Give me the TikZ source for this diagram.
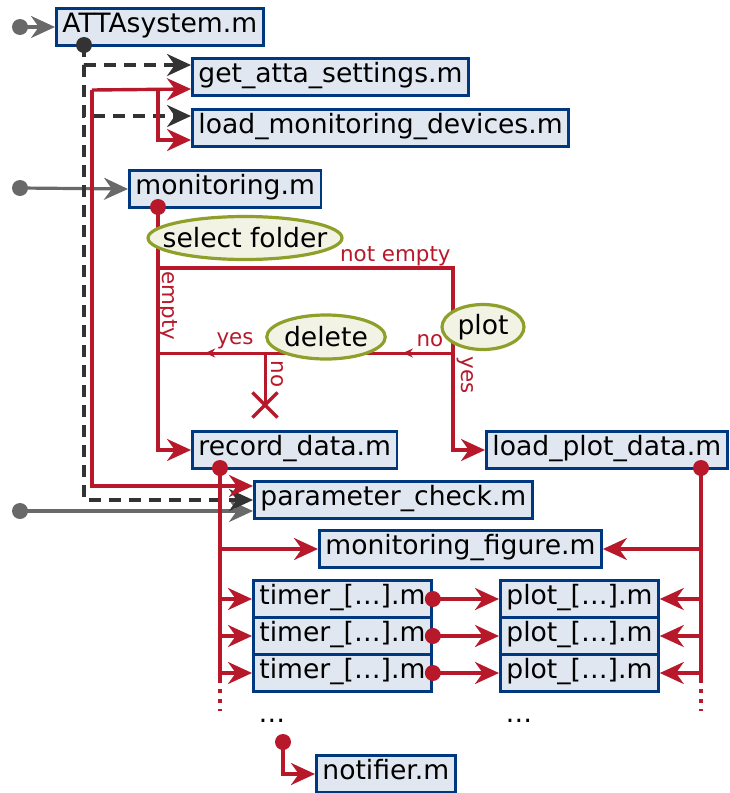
\documentclass[tikz,border=0pt]{standalone}
\usepackage{fontspec}
\setmainfont{DejaVu Sans}
\usetikzlibrary{arrows.meta,positioning,shapes.geometric,shapes.misc,decorations.markings}

\definecolor{callred}{RGB}{183,25,43}
\definecolor{fileblue}{RGB}{0,56,128}
\definecolor{filefill}{RGB}{225,231,240}
\definecolor{taskolive}{RGB}{143,160,42}
\definecolor{taskfill}{RGB}{242,243,229}
\definecolor{darkgray}{RGB}{51,51,51}
\definecolor{feedgray}{RGB}{105,105,105}

\tikzset{
  mfile/.style={draw=fileblue, fill=filefill, line width=1.4pt, anchor=west,
    minimum height=18.5pt, inner xsep=3pt, inner ysep=0pt,
    text height=0.76em, text depth=0.22em, font=\fontsize{13.3}{15}\selectfont},
  task/.style={ellipse, draw=taskolive, fill=taskfill, line width=1.6pt, inner sep=0pt,
    font=\fontsize{13.3}{15}\selectfont},
  lbl/.style={text=callred, inner sep=1pt, font=\fontsize{10.7}{12}\selectfont},
  call/.style={callred, line width=1.7pt, -{Stealth[length=12pt,width=11pt]}},
  rline/.style={callred, line width=1.7pt},
  decide/.style={callred, line width=1.5pt},
  dashcall/.style={darkgray, line width=1.6pt, dash pattern=on 6pt off 4pt, -{Stealth[length=12pt,width=11pt]}},
  feed/.style={feedgray, line width=1.6pt, -{Stealth[length=12pt,width=11pt]}},
  rdot/.style={circle, fill=callred, inner sep=0pt, minimum size=8pt},
  gdot/.style={circle, fill=feedgray, inner sep=0pt, minimum size=8pt},
  kdot/.style={circle, fill=darkgray, inner sep=0pt, minimum size=8pt},
}

\begin{document}
\begin{tikzpicture}[x=0.5pt, y=-0.5pt]
    \useasboundingbox (0,0) rectangle (729,793);

    % Dateien
    \node[mfile] (atta) at (55,27) {ATTAsystem.m};
    \node[mfile] (getatta) at (191,77) {get\_atta\_settings.m};
    \node[mfile] (loadmon) at (191,128) {load\_monitoring\_devices.m};
    \node[mfile] (monit) at (128,189) {monitoring.m};
    \node[mfile] (record) at (191,450) {record\_data.m};
    \node[mfile] (loadplot) at (485,450) {load\_plot\_data.m};
    \node[mfile] (paramcheck) at (253,500) {parameter\_check.m};
    \node[mfile] (monfig) at (318,549) {monitoring\_figure.m};
    \foreach \i/\y in {1/599,2/636,3/673}{
        \node[mfile] (timer\i) at (252,\y) {timer\_[…].m};
        \node[mfile] (plot\i) at (499,\y) {plot\_[…].m};
    }
    \node[mfile] (notifier) at (315,774) {notifier.m};
    \node[anchor=base, font=\fontsize{13.3}{15}\selectfont] (moretimer) at (272,722) {…};
    \node[anchor=base, font=\fontsize{13.3}{15}\selectfont] (moreplot) at (519,722) {…};

    % Startpunkte
    \node[gdot] (gatta) at (20,27) {};
    \node[gdot] (gmonit) at (20,188) {};
    \node[gdot] (gcheck) at (20,511) {};
    \node[kdot] (attadot) at (84,45) {};
    \node[rdot] (mondot) at (158,207) {};
    \node[rdot] (recdot) at (220,468) {};
    \node[rdot] (lpdot) at (701,468) {};
    \node[rdot] (notdot) at (283,742) {};
    \coordinate (rtop) at (92,90);
    \coordinate (rsplit) at (158,90);
    \coordinate (fsplit) at (158,268);
    \coordinate (fcorner) at (453,268);
    \coordinate (pjoin) at (453,353);
    \coordinate (ejoin) at (158,353);
    \coordinate (djoin) at (265,353);
    \coordinate (recend) at (220,679);
    \coordinate (lpend) at (701,679);

    % Aufrufe von aussen
    \draw[feed] (gatta.center) -- (atta.west);
    \draw[feed] (gmonit.center) -- (monit.west);
    \draw[feed] (gcheck.center) -- ([yshift=-5.5pt]paramcheck.west);

    % ATTAsystem
    \draw[dashcall] (attadot.center) |- ([yshift=6pt]getatta.west);
    \draw[dashcall] (attadot.center) |- ([yshift=6pt]loadmon.west);
    \draw[dashcall] (attadot.center) |- (paramcheck.west);

    % monitoring
    \draw[call] (rtop) -- ([yshift=-6pt]getatta.west);
    \draw[call] (rsplit) |- ([yshift=-6pt]loadmon.west);
    \draw[call] (rtop) |- ([yshift=7pt]paramcheck.west);
    \draw[call] (mondot.center) |- (record.west);
    \draw[call] (fsplit) -- (fcorner) |- (loadplot.west);
    \node[lbl, anchor=south east] (lnotempty) at (fcorner) {not empty};
    \node[lbl, rotate=-90] (lempty) at (168,306) {empty};

    % Entscheidungen
    \draw[decide, postaction={decorate}, decoration={markings,
        mark=at position 0.17 with {\arrow{Stealth[length=5pt,width=4.5pt]}},
        mark=at position 0.84 with {\arrow{Stealth[length=5pt,width=4.5pt]}}}]
        (pjoin) -- (ejoin);
    \node[cross out, draw=callred, line width=1.6pt, minimum size=11pt, inner sep=0pt] (nodelete) at (265,405) {};
    \draw[decide] (djoin) -- (nodelete.center);
    \node[lbl] (lno) at (430,341) {no};
    \node[lbl] (lyes) at (235,341) {yes};
    \node[lbl, rotate=-90] (lnodel) at (277,374) {no};
    \node[lbl, rotate=-90] (lyesplot) at (465,375) {yes};

    % record_data und load_plot_data
    \draw[call] (recdot.center) |- (monfig.west);
    \draw[call] (lpdot.center) |- (monfig.east);
    \foreach \i in {1,2,3}{
        \draw[call] (recdot.center) |- (timer\i.west);
        \draw[call] (lpdot.center) |- (plot\i.east);
        \node[rdot] (tdot\i) at (timer\i.east) {};
        \draw[call] (tdot\i.center) -- (plot\i.west);
    }
    \draw[rline] (recdot.center) -- (recend);
    \draw[rline, dash pattern=on 2pt off 3pt] (recend) -- ++(0,32);
    \draw[rline] (lpdot.center) -- (lpend);
    \draw[rline, dash pattern=on 2pt off 3pt] (lpend) -- ++(0,32);
    \draw[call] (notdot.center) |- (notifier.west);

    % Aufgaben
    \node[task, minimum width=97pt, minimum height=21.5pt, inner xsep=-8pt] (select) at (245,238) {select folder};
    \node[task, minimum width=57pt, minimum height=22pt] (delete) at (326,337) {delete};
    \node[task, minimum width=41pt, minimum height=22.5pt] (plot) at (483,327) {plot};
\end{tikzpicture}
\end{document}
